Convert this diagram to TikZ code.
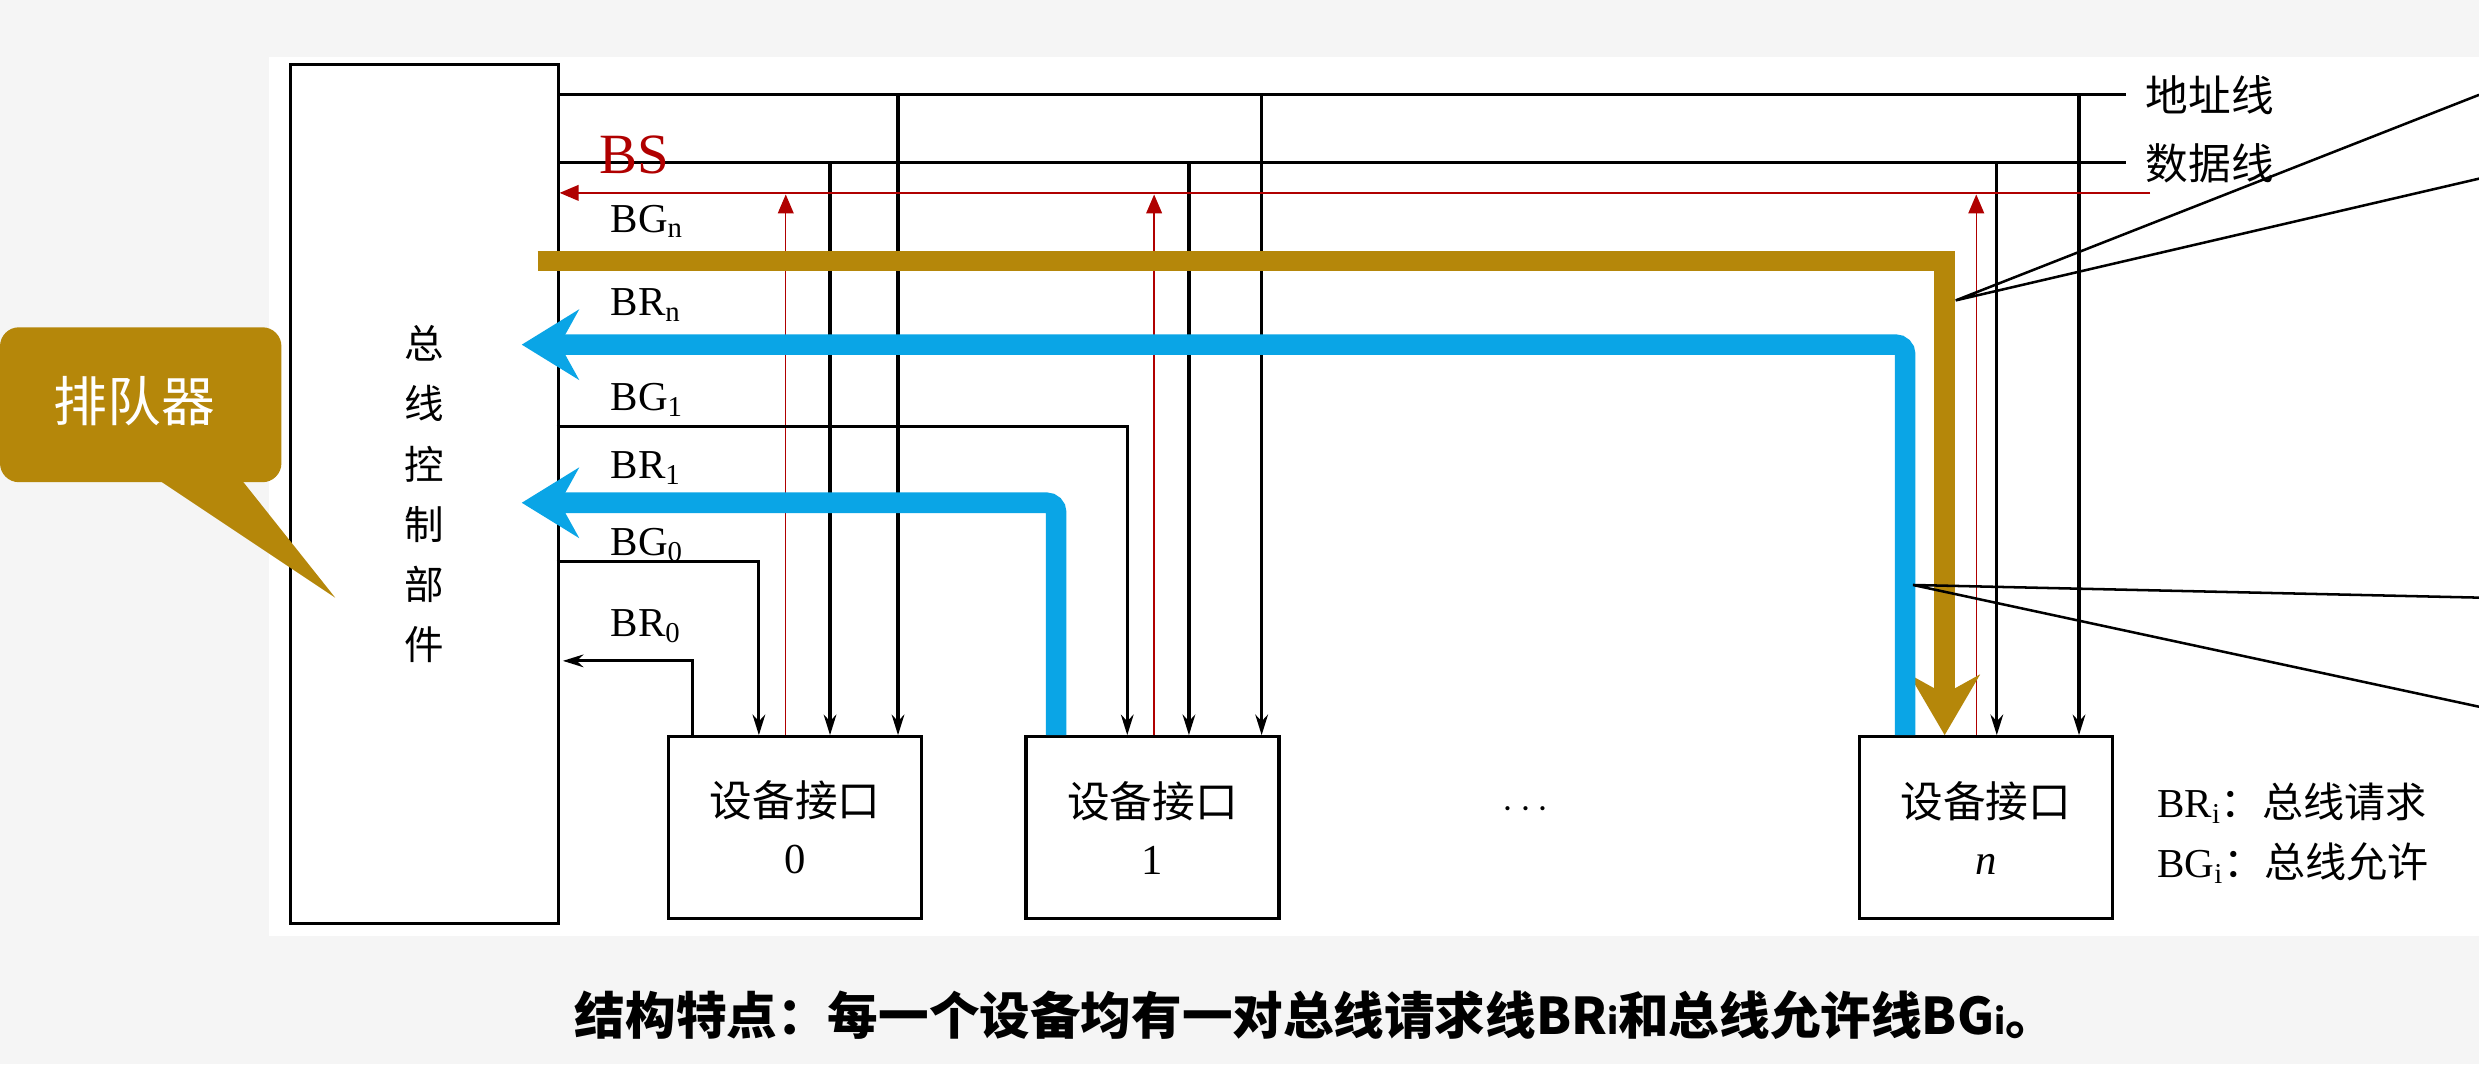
\documentclass[tikz,border=0pt]{standalone}
\usepackage{fontspec}
\setmainfont{Liberation Serif}
\newfontfamily\cjk{Noto Sans CJK SC}
\usetikzlibrary{arrows.meta,calc,positioning,shapes.callouts}
\definecolor{goldline}{HTML}{B5870A}
\definecolor{blueline}{HTML}{0AA5E6}
\definecolor{bsred}{HTML}{B00000}
\tikzset{
	wire/.style={line width=2pt},
	sig/.style={wire,-{Stealth[length=13pt,width=8pt]}},
	bs/.style={draw=bsred,line width=0.9pt,-{Triangle[length=12pt,width=10pt]},color=bsred},
	gold/.style={draw=goldline,line width=13pt,-{Stealth[length=38pt,width=44pt,inset=12pt]}},
	req/.style={draw=blueline,line width=13pt,rounded corners=6pt,-{Stealth[length=36pt,width=44pt,inset=12pt]}},
	lbl/.style={font=\fontsize{26}{28}\selectfont,inner sep=0pt,anchor=west},
	dev/.style={draw,line width=2pt,minimum width=160pt,minimum height=115pt,anchor=north west,
		align=center,font=\fontsize{27}{36}\selectfont}
}
\begin{document}
\begin{tikzpicture}[x=1pt,y=-1pt]
  \useasboundingbox (0,0) rectangle (1568,673);
  \fill[gray!8] (0,0) rectangle (1568,673);
  \fill[white] (170,36) rectangle (1568,592);
  % bus controller
  \node[draw,line width=2pt,minimum width=169pt,minimum height=543pt,anchor=north west] (ctl) at (183,40) {};
  \node[font=\cjk\fontsize{25}{38}\selectfont,align=center] at (ctl.center) {总\\线\\控\\制\\部\\件};
  % devices
  \node[dev] (d0) at (422,465) {{\cjk 设备接口}\\0};
  \node[dev] (d1) at (648,465) {{\cjk 设备接口}\\1};
  \node[dev] (dn) at (1175,465) {{\cjk 设备接口}\\\textit{n}};
  \node[font=\fontsize{26}{28}\selectfont] (dots) at (965,512) {$\cdots$};
  % address and data lines
  \coordinate (addr) at (1345,60);
  \coordinate (data) at (1345,103);
  \draw[wire] (ctl.east |- addr) -- (addr) node[right=8pt,font=\cjk\fontsize{27}{30}\selectfont] {地址线};
  \draw[wire] (ctl.east |- data) -- (data) node[right=8pt,font=\cjk\fontsize{27}{30}\selectfont] {数据线};
  \foreach \x/\d in {568/d0,798/d1,1315/dn} \draw[sig] (\x,60) -- (\x,465);
  \foreach \x/\d in {525/d0,752/d1,1263/dn} \draw[sig] (\x,103) -- (\x,465);
  % BS line
  \coordinate (bsend) at (1360,122);
  \draw[bs] (bsend) -- (ctl.east |- bsend);
  \node[text=bsred,font=\fontsize{36}{38}\selectfont,inner sep=0pt,anchor=west] (bslbl) at (379,98) {BS};
  \foreach \x in {497,730,1250} \draw[bs] (\x,465) -- (\x,123);
  % grant / request lines
  \draw[sig] (352,270) -| (713,465);
  \draw[sig] (352,355) -| (480,465);
  \draw[sig] (438,465) |- (356,418);
  \node[lbl] at (386,140) {BG\textsubscript{n}};
  \node[lbl] at (386,193) {BR\textsubscript{n}};
  \node[lbl] at (386,253) {BG\textsubscript{1}};
  \node[lbl] at (386,296) {BR\textsubscript{1}};
  \node[lbl] at (386,345) {BG\textsubscript{0}};
  \node[lbl] at (386,396) {BR\textsubscript{0}};
  % highlighted paths
  \draw[gold] (340,165) -- (1230,165) -- (1230,465);
  \draw[req] (1205,465) |- (330,218);
  \draw[req] (668,465) |- (330,318);
  % pointers
  \coordinate (pa) at (1237,190);
  \coordinate (pb) at (1210,370);
  \draw[line width=1.6pt] (1568,60) -- (pa) -- (1568,113);
  \draw[line width=1.6pt] (1568,378) -- (pb) -- (1568,447);
  % legend
  \node[anchor=west,font=\fontsize{26}{28}\selectfont] (lgr) at (1361,508) {BR\textsubscript{i}{\cjk ：总线请求}};
  \node[anchor=west,font=\fontsize{26}{28}\selectfont] (lgg) at (1361,546) {BG\textsubscript{i}{\cjk ：总线允许}};
  % queue callout
  \fill[goldline,rounded corners=12pt] (0,207) rectangle (178,305);
  \fill[goldline] (95,300) -- (212,378) -- (150,300) -- cycle;
  \node[text=white,font=\cjk\fontsize{34}{36}\selectfont] (queue) at (85,254) {排队器};
  % caption
  \node[font=\cjk\bfseries\fontsize{32}{36}\selectfont] (cap) at (832,642) {结构特点：每一个设备均有一对总线请求线BR{\fontsize{22}{24}\selectfont i}和总线允许线BG{\fontsize{22}{24}\selectfont i}。};
\end{tikzpicture}
\end{document}
